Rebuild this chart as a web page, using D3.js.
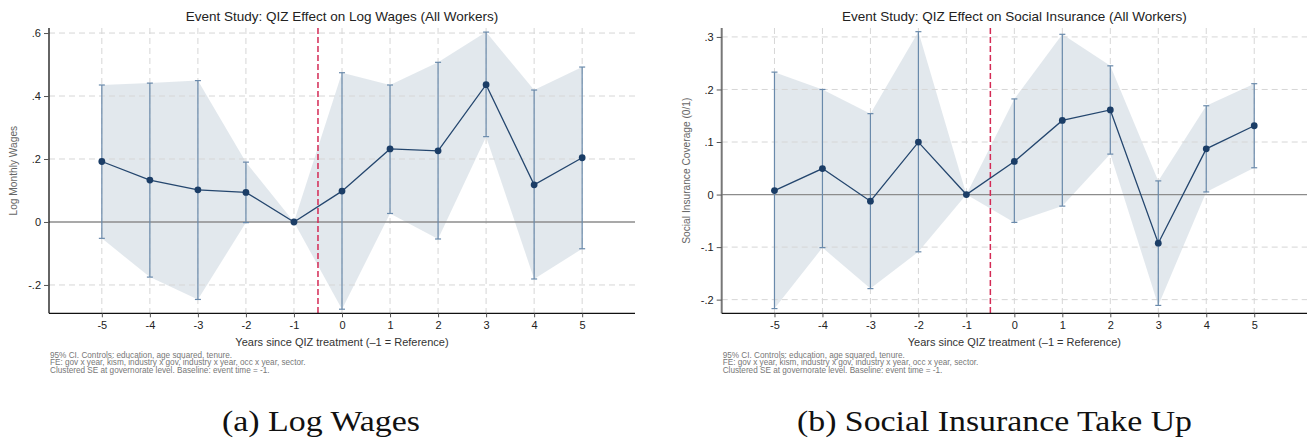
<!DOCTYPE html>
<html>
<head>
<meta charset="utf-8">
<script src="https://cdn.jsdelivr.net/npm/d3@7"></script>
<style>
  html, body { margin: 0; padding: 0; background: #fff; }
  svg { display: block; font-family: "Liberation Sans", Arial, sans-serif; }
</style>
</head>
<body>
<svg id="fig" width="1311" height="438"></svg>
<script>
// Event times (years relative to QIZ treatment)
const eventTimes = [-5, -4, -3, -2, -1, 0, 1, 2, 3, 4, 5];

// Panel (a): log monthly wages
const wageCoef  = [0.192, 0.133, 0.102, 0.094, 0, 0.098, 0.232, 0.226, 0.436, 0.118, 0.204];
const wageLower = [-0.052, -0.175, -0.246, -0.002, 0, -0.277, 0.027, -0.054, 0.271, -0.181, -0.085];
const wageUpper = [0.435, 0.441, 0.449, 0.190, 0, 0.474, 0.435, 0.507, 0.603, 0.419, 0.492];
const wageTicks = [-0.2, 0, 0.2, 0.4, 0.6];

// Panel (b): social insurance coverage
const siCoef  = [0.0076, 0.0495, -0.0126, 0.0998, 0, 0.063, 0.141, 0.161, -0.0926, 0.087, 0.131];
const siLower = [-0.217, -0.101, -0.179, -0.109, 0, -0.053, -0.022, 0.077, -0.211, 0.005, 0.051];
const siUpper = [0.233, 0.200, 0.154, 0.310, 0, 0.182, 0.305, 0.245, 0.026, 0.169, 0.211];
const siTicks = [-0.2, -0.1, 0, 0.1, 0.2, 0.3];

const noteLines = [
  "95% CI. Controls: education, age squared, tenure.",
  "FE: gov x year, kism, industry x gov, industry x year, occ x year, sector.",
  "Clustered SE at governorate level. Baseline: event time = -1."
];

const svg = d3.select("#fig");

// Stata-style number format: ".2", "-.2", "0"
function stataFmt(v) {
  const r = Math.round(v * 10) / 10;
  if (r === 0) return "0";
  const s = String(Math.abs(r)).replace(/^0\./, ".");
  return (r < 0 ? "-" : "") + s;
}

function drawPanel(cfg) {
  const g = svg.append("g");
  const x = d3.scaleLinear().domain([-6.1, 6.1]).range([cfg.left, cfg.right]);
  const y = d3.scaleLinear().domain(cfg.yDomain).range([cfg.bottom, cfg.top]);

  const rows = eventTimes.map((t, i) => ({
    t, b: cfg.coef[i], lo: cfg.lower[i], hi: cfg.upper[i]
  }));

  // CI band
  const area = d3.area()
    .x(d => x(d.t)).y0(d => y(d.lo)).y1(d => y(d.hi));
  g.append("path").datum(rows)
    .attr("d", area)
    .attr("fill", "#dfe5eb")
    .attr("fill-opacity", 0.9);

  // Gridlines
  g.append("g").selectAll("line").data(cfg.ticks.filter(v => v !== 0)).join("line")
    .attr("x1", cfg.left).attr("x2", cfg.right)
    .attr("y1", d => y(d)).attr("y2", d => y(d))
    .attr("stroke", "#d6d6d6").attr("stroke-width", 1)
    .attr("stroke-dasharray", "6,4");
  g.append("g").selectAll("line").data(eventTimes).join("line")
    .attr("x1", d => x(d)).attr("x2", d => x(d))
    .attr("y1", cfg.top).attr("y2", cfg.bottom)
    .attr("stroke", "#d6d6d6").attr("stroke-width", 1)
    .attr("stroke-dasharray", "6,4");

  // Zero reference line
  g.append("line")
    .attr("x1", cfg.left).attr("x2", cfg.right)
    .attr("y1", y(0)).attr("y2", y(0))
    .attr("stroke", "#8c8c8c").attr("stroke-width", 1.3);

  // Treatment onset line
  g.append("line")
    .attr("x1", x(-0.5)).attr("x2", x(-0.5))
    .attr("y1", cfg.top).attr("y2", cfg.bottom)
    .attr("stroke", "#d42a55").attr("stroke-width", 1.5)
    .attr("stroke-dasharray", "6,3");

  // Error bars with caps
  const bars = rows.filter(d => d.t !== -1);
  const eb = g.append("g").attr("stroke", "#6a8aab").attr("stroke-width", 1.2);
  eb.selectAll(".v").data(bars).join("line")
    .attr("x1", d => x(d.t)).attr("x2", d => x(d.t))
    .attr("y1", d => y(d.lo)).attr("y2", d => y(d.hi));
  eb.selectAll(".ct").data(bars).join("line")
    .attr("x1", d => x(d.t) - 3).attr("x2", d => x(d.t) + 3)
    .attr("y1", d => y(d.hi)).attr("y2", d => y(d.hi));
  eb.selectAll(".cb").data(bars).join("line")
    .attr("x1", d => x(d.t) - 3).attr("x2", d => x(d.t) + 3)
    .attr("y1", d => y(d.lo)).attr("y2", d => y(d.lo));

  // Coefficient line and markers
  g.append("path").datum(rows)
    .attr("d", d3.line().x(d => x(d.t)).y(d => y(d.b)))
    .attr("fill", "none").attr("stroke", "#24466e").attr("stroke-width", 1.3);
  g.append("g").selectAll("circle").data(rows).join("circle")
    .attr("cx", d => x(d.t)).attr("cy", d => y(d.b)).attr("r", 3.4)
    .attr("fill", "#1b3d66");

  // Axes
  const yAxis = g.append("g")
    .attr("transform", `translate(${cfg.left},0)`)
    .call(d3.axisLeft(y).tickValues(cfg.ticks).tickFormat(stataFmt).tickSize(5).tickPadding(3));
  yAxis.select(".domain").attr("stroke", cfg.yAxisColor).attr("stroke-width", cfg.yAxisWidth)
    .attr("d", `M0,${cfg.top}V${cfg.bottom}`);
  yAxis.selectAll(".tick line").attr("stroke", "#555");
  yAxis.selectAll(".tick text").style("font-size", "11px").attr("fill", "#222")
    .style("font-family", "Liberation Sans, Arial, sans-serif");

  const xAxis = g.append("g")
    .attr("transform", `translate(0,${cfg.bottom})`)
    .call(d3.axisBottom(x).tickValues(eventTimes).tickFormat(d => String(d)).tickSize(4).tickPadding(4));
  xAxis.select(".domain").attr("stroke", "#111").attr("stroke-width", 1.3)
    .attr("d", `M${cfg.left},0H${cfg.right}`);
  xAxis.selectAll(".tick line").attr("stroke", "#555");
  xAxis.selectAll(".tick text").style("font-size", "11px").attr("fill", "#222")
    .style("font-family", "Liberation Sans, Arial, sans-serif");

  const cx = (cfg.left + cfg.right) / 2;

  // Title
  g.append("text").attr("x", cx).attr("y", 20.5)
    .attr("text-anchor", "middle").attr("font-size", 13.5).attr("fill", "#222")
    .text(cfg.title);

  // Axis titles
  g.append("text").attr("x", cx).attr("y", 345.5)
    .attr("text-anchor", "middle").attr("font-size", 11).attr("fill", "#333")
    .text("Years since QIZ treatment (\u20131 = Reference)");
  g.append("text")
    .attr("transform", `translate(${cfg.yTitleX},${(cfg.top + cfg.bottom) / 2}) rotate(-90)`)
    .attr("text-anchor", "middle").attr("font-size", 10.2).attr("fill", "#666")
    .text(cfg.yTitle);

  // Notes
  g.append("g").selectAll("text").data(noteLines).join("text")
    .attr("x", cfg.left + 1).attr("y", (d, i) => 357.5 + i * 7.8)
    .attr("font-size", 8.2).attr("fill", "#777")
    .text(d => d);

  // Subfigure caption
  g.append("text").attr("x", cfg.capX).attr("y", 431)
    .attr("text-anchor", "middle")
    .style("font-family", "'Liberation Serif', 'Times New Roman', serif")
    .style("font-size", "30px").attr("fill", "#111")
    .attr("textLength", cfg.capLen).attr("lengthAdjust", "spacingAndGlyphs")
    .text(cfg.caption);
}

drawPanel({
  left: 49, right: 635, top: 28, bottom: 313.3,
  yDomain: [-0.29, 0.616], ticks: wageTicks,
  coef: wageCoef, lower: wageLower, upper: wageUpper,
  title: "Event Study: QIZ Effect on Log Wages (All Workers)",
  yTitle: "Log Monthly Wages", yTitleX: 16.5,
  yAxisColor: "#111", yAxisWidth: 1.3,
  caption: "(a) Log Wages", capX: 321, capLen: 198
});

drawPanel({
  left: 721.7, right: 1307, top: 28, bottom: 313.3,
  yDomain: [-0.226, 0.317], ticks: siTicks,
  coef: siCoef, lower: siLower, upper: siUpper,
  title: "Event Study: QIZ Effect on Social Insurance (All Workers)",
  yTitle: "Social Insurance Coverage (0/1)", yTitleX: 690,
  yAxisColor: "#777", yAxisWidth: 2,
  caption: "(b) Social Insurance Take Up", capX: 994.5, capLen: 395
});
</script>
</body>
</html>
